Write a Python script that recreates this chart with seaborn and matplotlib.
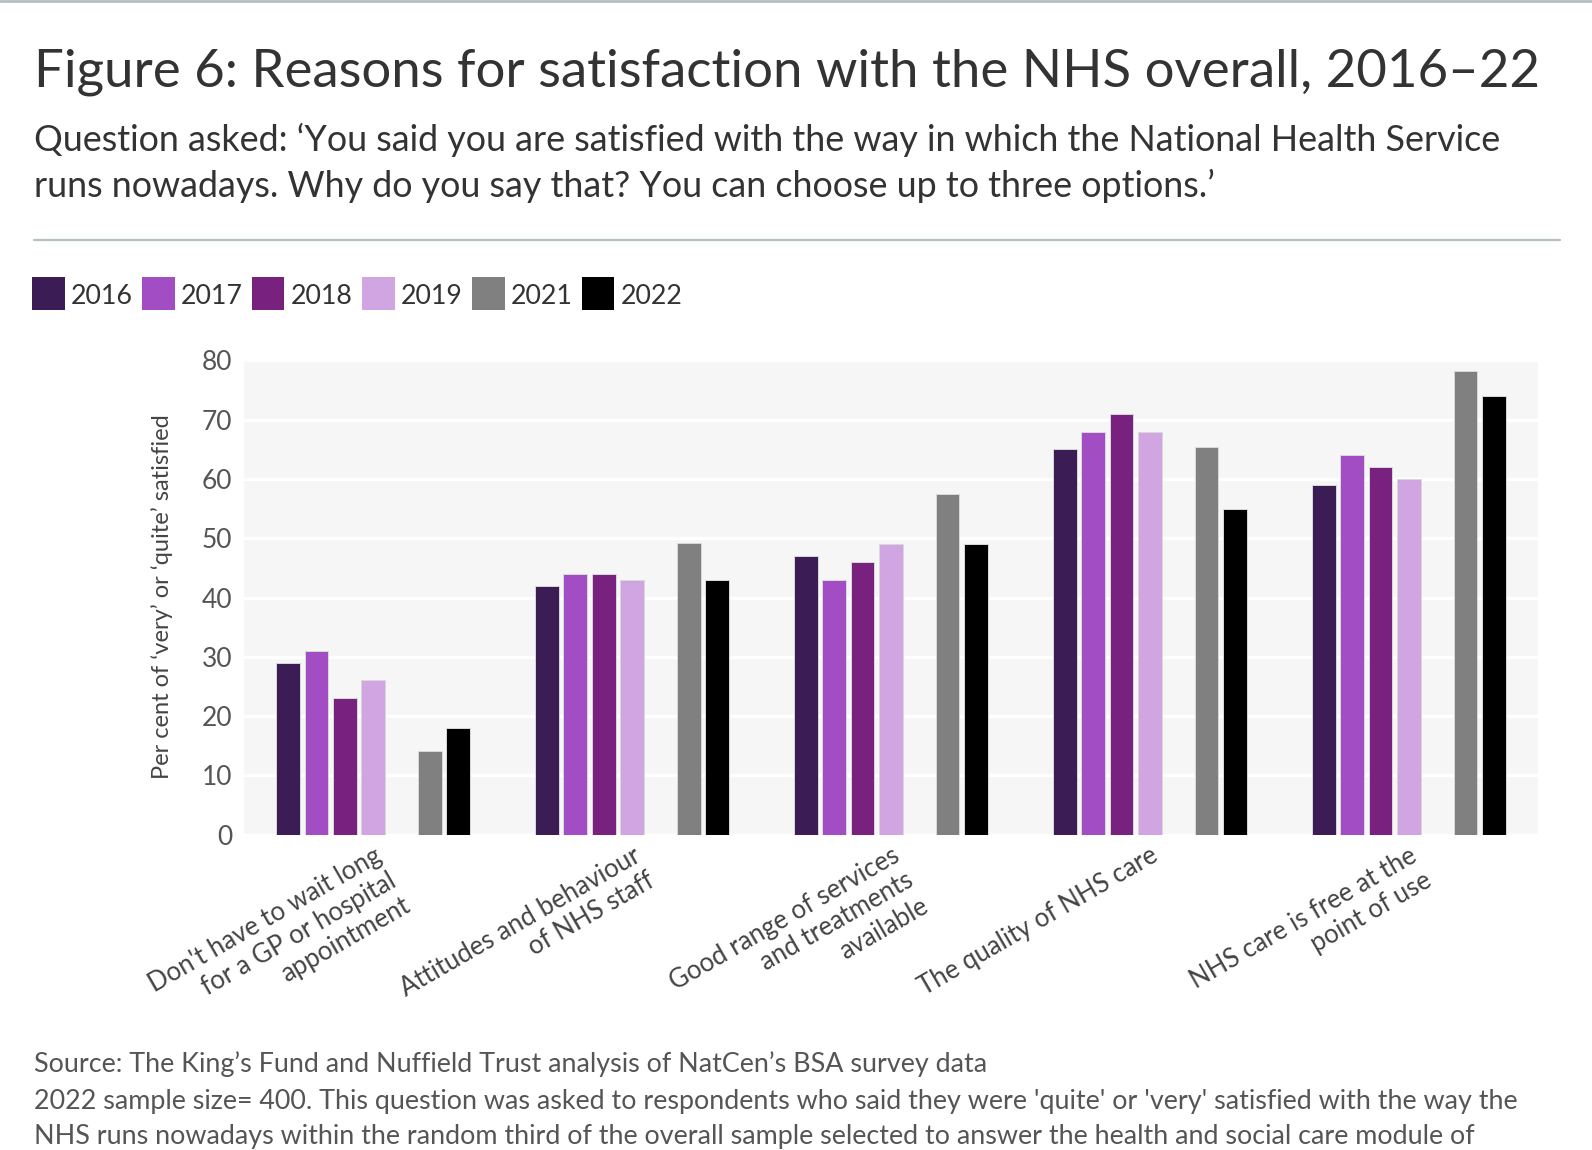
import matplotlib
matplotlib.use("Agg")
import numpy as np
import pandas as pd
import seaborn as sns
import matplotlib.pyplot as plt
from matplotlib.patches import Rectangle
from matplotlib.lines import Line2D

# ---------------- data ----------------
categories = [
    "Don't have to wait long\nfor a GP or hospital\nappointment",
    "Attitudes and behaviour\nof NHS staff",
    "Good range of services\nand treatments\navailable",
    "The quality of NHS care",
    "NHS care is free at the\npoint of use",
]
years = ["2016", "2017", "2018", "2019", "2020", "2021", "2022"]  # 2020: no survey (empty slot)
legend_years = ["2016", "2017", "2018", "2019", "2021", "2022"]
values_2016 = [29, 42, 47, 65, 59]
values_2017 = [31, 44, 43, 68, 64]
values_2018 = [23, 44, 46, 71, 62]
values_2019 = [26, 43, 49, 68, 60]
values_2021 = [14.1, 49.2, 57.5, 65.4, 78.2]
values_2022 = [18, 43, 49, 55, 74]
y_ticks = [0, 10, 20, 30, 40, 50, 60, 70, 80]

colors = {"2016": "#3b1c55", "2017": "#a34dc4", "2018": "#78217f", "2019": "#d0a5e2",
          "2020": "#ffffff", "2021": "#808080", "2022": "#000000"}

series = {"2016": values_2016, "2017": values_2017, "2018": values_2018,
          "2019": values_2019, "2021": values_2021, "2022": values_2022}
rows = []
for yr, vals in series.items():
    for c, v in zip(categories, vals):
        rows.append({"category": c, "year": yr, "value": v})
df = pd.DataFrame(rows)

# ---------------- figure ----------------
sns.set_theme(style="white")
FONT = ["Lato", "DejaVu Sans"]
plt.rcParams["font.family"] = FONT

W, H = 1592, 1150
S = 1592 / 1568  # measured positions were taken on a 1568-wide view
fig = plt.figure(figsize=(W / 100, H / 100), dpi=100)
fig.patch.set_facecolor("white")

def fx(px):
    return px * S / W

def fy(py):
    return 1 - py * S / H

ax = fig.add_axes([fx(240), fy(822), fx(1515) - fx(240), (822 - 355) * S / H])
ax.set_facecolor("#f6f6f6")

sns.barplot(data=df, x="category", y="value", hue="year", hue_order=years,
            order=categories, palette=colors, saturation=1, width=0.766, gap=0.16,
            edgecolor="#d9d9d9", linewidth=0.7, ax=ax, legend=False, errorbar=None,
            zorder=3)

ax.set_ylim(0, 80)
ax.set_xlim(-0.5, len(categories) - 0.5)
ax.set_yticks(y_ticks)
ax.set_yticklabels([str(t) for t in y_ticks], fontsize=19, color="#555555")
ax.yaxis.grid(True, color="white", linewidth=2.4, zorder=1)
ax.set_axisbelow(True)
for s in ax.spines.values():
    s.set_visible(False)
ax.tick_params(axis="both", length=0)
ax.tick_params(axis="y", pad=8)
ax.set_xlabel("")
ax.set_ylabel("")
ax.set_xticks(range(len(categories)))
ax.set_xticklabels(categories, rotation=30, ha="right", va="top",
                   rotation_mode="anchor", multialignment="right",
                   fontsize=18.5, color="#444444", linespacing=1.2)
ax.tick_params(axis="x", pad=6)

renderer = fig.canvas.get_renderer()

def fit(x_px, y_px, s, target_w, fs0=20, **kw):
    t = fig.text(fx(x_px), fy(y_px), s, fontsize=fs0, **kw)
    w = t.get_window_extent(renderer).width
    fs = fs0 * target_w * S / w
    t.set_fontsize(fs)
    return t, fs

# title & subtitle
fit(33, 85, "Figure 6: Reasons for satisfaction with the NHS overall, 2016\u201322", 1484,
    color="#333333", va="baseline", ha="left")
_, sfs = fit(33, 149, "Question asked: \u2018You said you are satisfied with the way in which the National Health Service",
             1448, color="#333333", va="baseline", ha="left")
fig.text(fx(33), fy(194), "runs nowadays. Why do you say that? You can choose up to three options.\u2019",
         fontsize=sfs, color="#333333", va="baseline", ha="left")

# lines
fig.add_artist(Line2D([0, 1], [fy(1), fy(1)], color="#b4bfc2", linewidth=2, transform=fig.transFigure))
fig.add_artist(Line2D([fx(33), fx(1536)], [fy(236), fy(236)], color="#b4bfc2", linewidth=1.6,
                      transform=fig.transFigure))

# legend
leg_x = [32, 140, 248, 357, 465, 573]
t0 = fig.text(0, 0, "2016", fontsize=20)
lw0 = t0.get_window_extent(renderer).width
t0.remove()
lfs = 20 * 61 * S / lw0
for xp, yr in zip(leg_x, legend_years):
    fig.add_artist(Rectangle((fx(xp), fy(305)), 32 * S / W, 32 * S / H, facecolor=colors[yr],
                             edgecolor="none", transform=fig.transFigure))
    fig.text(fx(xp + 38), fy(290), yr, fontsize=lfs, color="#333333", va="center_baseline", ha="left")

# y label
yl = fig.text(fx(160), fy(588), "Per cent of \u2018very\u2019 or \u2018quite\u2019 satisfied", fontsize=15,
              rotation=90, ha="center", va="center", color="#444444")
hh = yl.get_window_extent(renderer).height
yl.set_fontsize(15 * 360 * S / hh)

# footer
_, ffs = fit(33, 1092, "2022 sample size= 400. This question was asked to respondents who said they were 'quite' or 'very' satisfied with the way the",
             1464, color="#555555", va="baseline", ha="left")
fig.text(fx(33), fy(1056), "Source: The King\u2019s Fund and Nuffield Trust analysis of NatCen\u2019s BSA survey data",
         fontsize=ffs, color="#555555", va="baseline", ha="left")
fig.text(fx(33), fy(1127), "NHS runs nowadays within the random third of the overall sample selected to answer the health and social care module of",
         fontsize=ffs, color="#555555", va="baseline", ha="left")

fig.savefig("out.png", dpi=100, facecolor="white")
